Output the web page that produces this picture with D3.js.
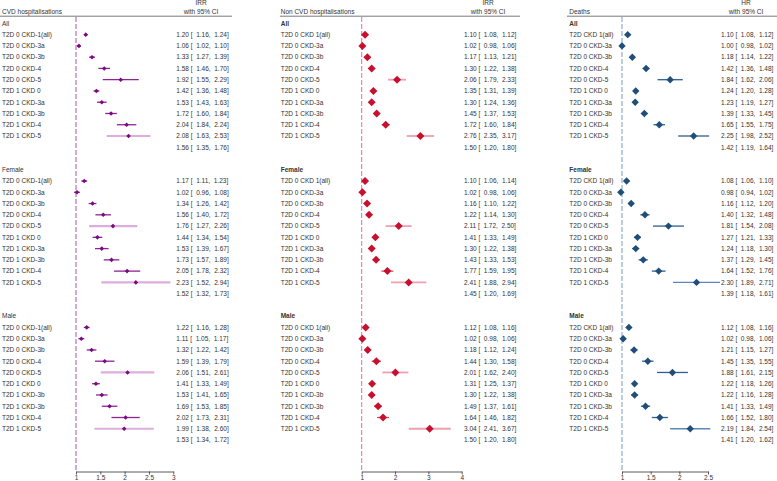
<!DOCTYPE html>
<html><head><meta charset="utf-8">
<script src="https://cdn.jsdelivr.net/npm/d3@7"></script>
<style>
body{margin:0;background:#fff;}
svg{display:block;font-family:"Liberation Sans",Arial,Helvetica,sans-serif;}
text{white-space:pre;}
</style></head>
<body>
<script>
// ---------- DATA ----------
const groupNames = ["All", "Female", "Male"];

const cvdLabelsAll = ["T2D 0 CKD-1(all)","T2D 0 CKD-3a","T2D 0 CKD-3b","T2D 0 CKD-4","T2D 0 CKD-5","T2D 1 CKD 0","T2D 1 CKD-3a","T2D 1 CKD-3b","T2D 1 CKD-4","T2D 1 CKD-5"];
const cvdLabelsMale = ["T2D 0 CKD-1(all)","T2D 0 CKD-3a","T2D 0 CKD-3b","T2D 0 CKD-4","T2D 0 CKD-5","T2D 1 CKD 0","T2D 1 CKD-3b","T2D 1 CKD-3b","T2D 1 CKD-4","T2D 1 CKD-5"];
const ncvdLabelsAll = ["T2D 0 CKD 1(all)","T2D 0 CKD-3a","T2D 0 CKD-3b","T2D 0 CKD-4","T2D 0 CKD-5","T2D 1 CKD 0","T2D 1 CKD-3a","T2D 1 CKD-3b","T2D 1 CKD-4","T2D 1 CKD-5"];
const ncvdLabelsMale = ["T2D 0 CKD 1(all)","T2D 0 CKD-3a","T2D 0 CKD-3b","T2D 0 CKD-4","T2D 0 CKD-5","T2D 1 CKD 0","T2D 1 CKD-3b","T2D 1 CKD-3b","T2D 1 CKD-4","T2D 1 CKD-5"];
const deathLabels = ["T2D CKD 1(all)","T2D 0 CKD-3a","T2D 0 CKD-3b","T2D 0 CKD-4","T2D 0 CKD-5","T2D 1 CKD 0","T2D 1 CKD-3a","T2D 1 CKD-3b","T2D 1 CKD-4","T2D 1 CKD-5"];

// [estimate, lower, upper]
const cvdAll = [[1.20,1.16,1.24],[1.06,1.02,1.10],[1.33,1.27,1.39],[1.58,1.46,1.70],[1.92,1.55,2.29],[1.42,1.36,1.48],[1.53,1.43,1.63],[1.72,1.60,1.84],[2.04,1.84,2.24],[2.08,1.63,2.53]];
const cvdFemale = [[1.17,1.11,1.23],[1.02,0.96,1.08],[1.34,1.26,1.42],[1.56,1.40,1.72],[1.76,1.27,2.26],[1.44,1.34,1.54],[1.53,1.39,1.67],[1.73,1.57,1.89],[2.05,1.78,2.32],[2.23,1.52,2.94]];
const cvdMale = [[1.22,1.16,1.28],[1.11,1.05,1.17],[1.32,1.22,1.42],[1.59,1.39,1.79],[2.06,1.51,2.61],[1.41,1.33,1.49],[1.53,1.41,1.65],[1.69,1.53,1.85],[2.02,1.73,2.31],[1.99,1.38,2.60]];
const cvdOverall = [[1.56,1.35,1.76],[1.52,1.32,1.73],[1.53,1.34,1.72]];

const ncvdAll = [[1.10,1.08,1.12],[1.02,0.98,1.06],[1.17,1.13,1.21],[1.30,1.22,1.38],[2.06,1.79,2.33],[1.35,1.31,1.39],[1.30,1.24,1.36],[1.45,1.37,1.53],[1.72,1.60,1.84],[2.76,2.35,3.17]];
const ncvdFemale = [[1.10,1.06,1.14],[1.02,0.98,1.06],[1.16,1.10,1.22],[1.22,1.14,1.30],[2.11,1.72,2.50],[1.41,1.33,1.49],[1.30,1.22,1.38],[1.43,1.33,1.53],[1.77,1.59,1.95],[2.41,1.88,2.94]];
const ncvdMale = [[1.12,1.08,1.16],[1.02,0.98,1.06],[1.18,1.12,1.24],[1.44,1.30,1.58],[2.01,1.62,2.40],[1.31,1.25,1.37],[1.30,1.22,1.38],[1.49,1.37,1.61],[1.64,1.46,1.82],[3.04,2.41,3.67]];
const ncvdOverall = [[1.50,1.20,1.80],[1.45,1.20,1.69],[1.50,1.20,1.80]];

const deathAll = [[1.10,1.08,1.12],[1.00,0.98,1.02],[1.18,1.14,1.22],[1.42,1.36,1.48],[1.84,1.62,2.06],[1.24,1.20,1.28],[1.23,1.19,1.27],[1.39,1.33,1.45],[1.65,1.55,1.75],[2.25,1.98,2.52]];
const deathFemale = [[1.08,1.06,1.10],[0.98,0.94,1.02],[1.16,1.12,1.20],[1.40,1.32,1.48],[1.81,1.54,2.08],[1.27,1.21,1.33],[1.24,1.18,1.30],[1.37,1.29,1.45],[1.64,1.52,1.76],[2.30,1.89,2.71]];
const deathMale = [[1.12,1.08,1.16],[1.02,0.98,1.06],[1.21,1.15,1.27],[1.45,1.35,1.55],[1.88,1.61,2.15],[1.22,1.18,1.26],[1.22,1.16,1.28],[1.41,1.33,1.49],[1.66,1.52,1.80],[2.19,1.84,2.54]];
const deathOverall = [[1.42,1.19,1.64],[1.39,1.18,1.61],[1.41,1.20,1.62]];

const cvdTicks = [1, 1.5, 2, 2.5, 3];
const ncvdTicks = [1, 2, 3, 4];
const deathTicks = [1, 1.5, 2, 2.5];

// ---------- LAYOUT ----------
const W = 777, H = 481;
const ROW0 = 23.4, ROWH = 11.26;
const FS = 6.5;
const rowY = i => ROW0 + i * ROWH;

const panels = [
  {title:"CVD hospitalisations", stat:"IRR", labels:[cvdLabelsAll,cvdLabelsAll,cvdLabelsMale],
   groups:[cvdAll,cvdFemale,cvdMale], overall:cvdOverall, ticks:cvdTicks,
   bold:false, labelX:2, valX:176.3, headX:201, lineX0:0, lineX1:232,
   range:[76,173.3], domain:[1,3],
   marker:"#7a0a80", r:2.3, ref:"#a556a8",
   ci: w => w >= 0.8 ? ["#dcaede",2.2] : ["#8d2590",1.3]},
  {title:"Non CVD hospitalisations", stat:"IRR", labels:[ncvdLabelsAll,ncvdLabelsAll,ncvdLabelsMale],
   groups:[ncvdAll,ncvdFemale,ncvdMale], overall:ncvdOverall, ticks:ncvdTicks,
   bold:true, labelX:280.7, valX:464, headX:488, lineX0:280, lineX1:520,
   range:[361.7,461.7], domain:[1,4],
   marker:"#c8102e", r:4, ref:"#e2708a",
   ci: w => w >= 0.4 ? ["#eea0b0",1.8] : ["#d44a68",1.3]},
  {title:"Deaths", stat:"HR", labels:[deathLabels,deathLabels,deathLabels],
   groups:[deathAll,deathFemale,deathMale], overall:deathOverall, ticks:deathTicks,
   bold:true, labelX:569.3, valX:721, headX:746, lineX0:567, lineX1:777,
   range:[622,708], domain:[1,2.5],
   marker:"#1f4e7a", r:3.7, ref:"#7b9bbd",
   ci: w => w >= 0.7 ? ["#5c88b6",1.3] : ["#2c5f93",1.3]}
];

const svg = d3.select("body").append("svg").attr("width",W).attr("height",H);
const fmt = d3.format(".2f");
const diamond = r => `M0,${-r}L${r},0L0,${r}L${-r},0Z`;

panels.forEach(p => {
  const g = svg.append("g");
  const x = d3.scaleLinear().domain(p.domain).range(p.range);

  // header
  g.append("text").attr("x",p.labelX).attr("y",14.3).attr("font-size",FS).attr("fill","#333").text(p.title);
  g.append("text").attr("x",p.headX).attr("y",5.2).attr("font-size",FS).attr("fill","#333").attr("text-anchor","middle").text(p.stat);
  g.append("text").attr("x",p.headX).attr("y",14.3).attr("font-size",FS).attr("fill","#333").attr("text-anchor","middle").text("with 95% CI");
  g.append("line").attr("x1",p.lineX0).attr("x2",p.lineX1).attr("y1",16.2).attr("y2",16.2)
    .attr("stroke","#555").attr("stroke-width",0.8);

  // reference line at 1
  g.append("line").attr("x1",x(1)).attr("x2",x(1)).attr("y1",17).attr("y2",471.5)
    .attr("stroke",p.ref).attr("stroke-width",1).attr("stroke-dasharray","5,2");

  groupNames.forEach((gn, gi) => {
    const base = gi * 13;
    g.append("text").attr("x",p.labelX).attr("y",rowY(base)+2.3).attr("font-size",FS)
      .attr("font-weight",p.bold?"bold":"normal").attr("fill","#333").text(gn);
    const rows = p.groups[gi].map((d,i) => ({label:p.labels[gi][i], est:d[0], lo:d[1], hi:d[2], y:rowY(base+1+i)}));
    const rg = g.append("g");
    rg.selectAll("text.lab").data(rows).join("text").attr("class","lab")
      .attr("x",p.labelX).attr("y",d=>d.y+2.3).attr("font-size",FS).attr("fill","#333").text(d=>d.label);
    rg.selectAll("text.val").data(rows).join("text").attr("class","val")
      .attr("x",p.valX).attr("y",d=>d.y+2.3).attr("font-size",FS).attr("fill","#333")
      .text(d=>`${fmt(d.est)} [  ${fmt(d.lo)},  ${fmt(d.hi)}]`);
    rg.selectAll("line.ci").data(rows).join("line").attr("class","ci")
      .attr("x1",d=>x(d.lo)).attr("x2",d=>x(d.hi)).attr("y1",d=>d.y).attr("y2",d=>d.y)
      .attr("stroke",d=>p.ci(d.hi-d.lo)[0]).attr("stroke-width",d=>p.ci(d.hi-d.lo)[1]);
    rg.selectAll("path.pt").data(rows).join("path").attr("class","pt")
      .attr("transform",d=>`translate(${x(d.est)},${d.y})`).attr("d",diamond(p.r)).attr("fill",p.marker);
    // overall row text
    const o = p.overall[gi];
    g.append("text").attr("x",p.valX).attr("y",rowY(base+11)+2.3).attr("font-size",FS).attr("fill","#333")
      .text(`${fmt(o[0])} [  ${fmt(o[1])},  ${fmt(o[2])}]`);
  });

  // axis
  const ax = g.append("g").attr("transform","translate(0,471.5)")
    .call(d3.axisBottom(x).tickValues(p.ticks).tickSize(3).tickPadding(1).tickSizeOuter(0).tickFormat(d3.format("")));
  ax.select(".domain").attr("stroke","#333").attr("stroke-width",0.8);
  ax.selectAll(".tick line").attr("stroke","#333").attr("stroke-width",0.8);
  ax.selectAll(".tick text").attr("font-size",FS).attr("fill","#333").attr("font-family","Liberation Sans, Arial, sans-serif");
});
</script>
</body></html>
